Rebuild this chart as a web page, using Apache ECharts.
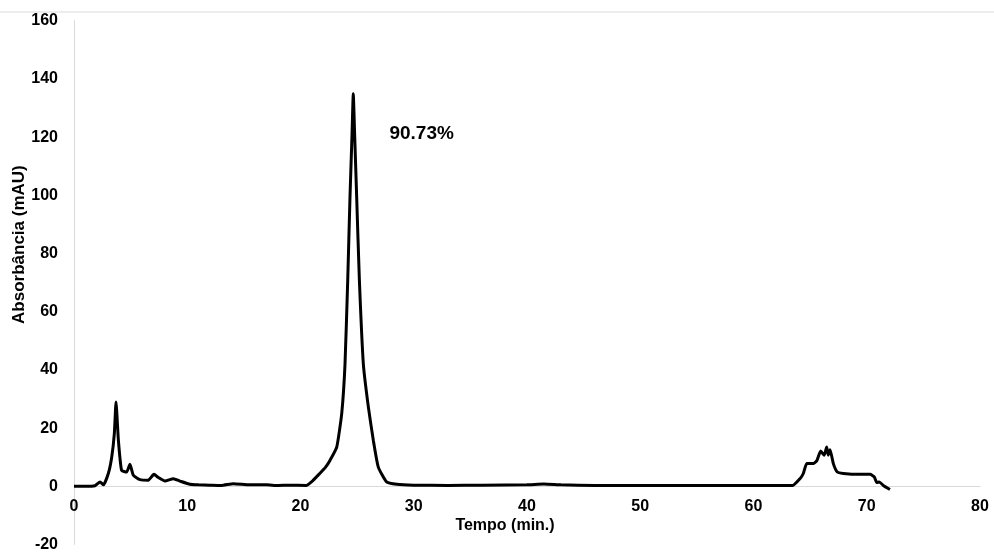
<!DOCTYPE html>
<html>
<head>
<meta charset="utf-8">
<script src="https://cdn.jsdelivr.net/npm/echarts@6/dist/echarts.min.js"></script>
<style>
  html, body { margin: 0; padding: 0; background: #fff; }
  #chart { width: 994px; height: 554px; }
</style>
</head>
<body>
<div id="chart"></div>
<script>
// Chromatogram: retention time (min) vs absorbance (mAU)
const tempo = [
  0, 1, 1.85, 2.3, 2.6, 3.03, 3.33, 3.56, 3.71, 3.92, 4.2, 4.65, 4.94, 5.24,
  5.83, 6.56, 7.06, 7.45, 8.03, 8.77, 9.36, 10.24, 11, 12, 13, 14.07, 15.5,
  17, 18, 19, 20.5, 21.1, 21.7, 22.2, 22.6, 23.2, 23.64, 23.93, 24.17, 24.37,
  24.55, 24.66, 24.78, 24.96, 25.2, 25.55, 25.99, 26.43, 26.87, 27.6, 28.5,
  30, 33, 36, 40, 41.5, 43, 46, 50, 55, 60, 62.3, 63.46, 64.1, 64.4, 64.7,
  65.3, 65.6, 65.93, 66.25, 66.46, 66.6, 66.76, 67.05, 67.4, 67.93, 69.4,
  70.3, 70.67, 70.88, 71.1, 71.46, 72.05
];
const absorbancia = [
  0, 0, 0.2, 1.5, 0.5, 4.4, 10, 18, 29, 15.8, 5.5, 4.9, 7.6, 3.8,
  2.3, 2.1, 4.1, 3, 1.8, 2.6, 1.8, 0.7, 0.5, 0.4, 0.3, 0.9, 0.5,
  0.5, 0.3, 0.4, 0.3, 2.0, 4.4, 6.5, 8.9, 13.5, 25, 42, 70.8, 99.4,
  121, 134.9, 121, 99.4, 70.8, 42, 27.3, 15.8, 6.6, 1.5, 0.7,
  0.4, 0.3, 0.4, 0.5, 0.8, 0.5, 0.3, 0.3, 0.3, 0.3, 0.3, 0.3, 2.6, 4.4, 7.8,
  7.8, 8.9, 12.1, 10.7, 13.5, 10.7, 12.6, 7.8, 4.9, 4.4, 4.1,
  4.1, 3.2, 1.3, 1.5, 0.3, -1.1
];
const xTicks = { min: 0, max: 80, step: 10 };
const yTicks = { min: -20, max: 160, step: 20 };
const peakLabel = { text: '90.73%', tempo: 30.7, absorbancia: 121.2 };

const font = 'Liberation Sans, Arial, sans-serif';
const gridTop = 20.7, gridBottom = 9.5, chartHeight = 554;
// the time axis sits on the zero line: lift it from the grid's bottom edge
const plotHeight = chartHeight - gridTop - gridBottom;
const zeroLift = plotHeight * (0 - yTicks.min) / (yTicks.max - yTicks.min);

const chart = echarts.init(document.getElementById('chart'), null, { renderer: 'canvas' });

chart.setOption({
  animation: false,
  backgroundColor: '#ffffff',
  grid: { left: 74, right: 14, top: gridTop, bottom: gridBottom, containLabel: false, outerBoundsMode: 'none' },
  graphic: [{
    type: 'line',
    shape: { x1: 0, y1: 12, x2: 994, y2: 12 },
    style: { stroke: '#d9d9d9', lineWidth: 1 }
  }],
  xAxis: {
    type: 'value',
    position: 'bottom',
    offset: -zeroLift,
    min: xTicks.min, max: xTicks.max, interval: xTicks.step,
    name: 'Tempo (min.)',
    nameLocation: 'middle',
    nameGap: 31,
    nameMoveOverlap: false,
    nameTextStyle: { fontFamily: font, fontWeight: 'bold', fontSize: 16, color: '#000', padding: [0, 44, 0, 0] },
    axisLine: { show: true, onZero: false, lineStyle: { color: '#d9d9d9', width: 1 } },
    axisTick: { show: false },
    splitLine: { show: false },
    axisLabel: { margin: 12, fontFamily: font, fontWeight: 'bold', fontSize: 16, color: '#000' }
  },
  yAxis: {
    type: 'value',
    min: yTicks.min, max: yTicks.max, interval: yTicks.step,
    name: 'Absorbância (mAU)',
    nameLocation: 'middle',
    nameGap: 46,
    nameRotate: 90,
    nameMoveOverlap: false,
    nameTextStyle: { fontFamily: font, fontWeight: 'bold', fontSize: 17, color: '#000', padding: [0, 0, 0, 76] },
    axisLine: { show: true, lineStyle: { color: '#d9d9d9', width: 1 } },
    axisTick: { show: false },
    splitLine: { show: false },
    axisLabel: { margin: 16, fontFamily: font, fontWeight: 'bold', fontSize: 16, color: '#000' }
  },
  series: [{
    type: 'line',
    data: tempo.map((t, i) => [t, absorbancia[i]]),
    showSymbol: false,
    smooth: 0.15,
    lineStyle: { color: '#000', width: 3 },
    markPoint: {
      symbol: 'circle',
      symbolSize: 0,
      data: [{ coord: [peakLabel.tempo, peakLabel.absorbancia], value: peakLabel.text }],
      label: {
        show: true, position: 'inside', formatter: '{c}',
        fontFamily: font, fontWeight: 'bold', fontSize: 19, color: '#000'
      }
    }
  }]
});
</script>
</body>
</html>
